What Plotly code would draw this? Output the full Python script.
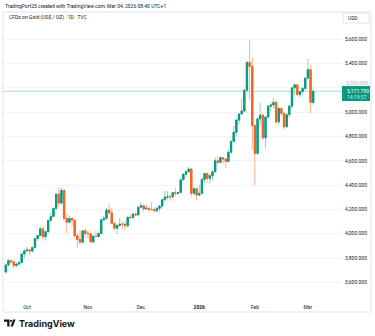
import plotly.graph_objects as go

# ---------------- data ----------------
dates = [
    "2025-09-19", "2025-09-22", "2025-09-23", "2025-09-24", "2025-09-25", "2025-09-26",
    "2025-09-29", "2025-09-30",
    "2025-10-01", "2025-10-02", "2025-10-03", "2025-10-06", "2025-10-07", "2025-10-08",
    "2025-10-09", "2025-10-10", "2025-10-13", "2025-10-14", "2025-10-15", "2025-10-16",
    "2025-10-17", "2025-10-20", "2025-10-21", "2025-10-22", "2025-10-23", "2025-10-24",
    "2025-10-27", "2025-10-28", "2025-10-29", "2025-10-30", "2025-10-31",
    "2025-11-03", "2025-11-04", "2025-11-05", "2025-11-06", "2025-11-07", "2025-11-10",
    "2025-11-11", "2025-11-12", "2025-11-13", "2025-11-14", "2025-11-17", "2025-11-18",
    "2025-11-19", "2025-11-20", "2025-11-21", "2025-11-24", "2025-11-25", "2025-11-26",
    "2025-11-27", "2025-11-28",
    "2025-12-01", "2025-12-02", "2025-12-03", "2025-12-04", "2025-12-05", "2025-12-08",
    "2025-12-09", "2025-12-10", "2025-12-11", "2025-12-12", "2025-12-15", "2025-12-16",
    "2025-12-17", "2025-12-18", "2025-12-19", "2025-12-22", "2025-12-23", "2025-12-24",
    "2025-12-26", "2025-12-29", "2025-12-30", "2025-12-31",
    "2026-01-02", "2026-01-05", "2026-01-06", "2026-01-07", "2026-01-08", "2026-01-09",
    "2026-01-12", "2026-01-13", "2026-01-14", "2026-01-15", "2026-01-16", "2026-01-19",
    "2026-01-20", "2026-01-21", "2026-01-22", "2026-01-23", "2026-01-26", "2026-01-27",
    "2026-01-28", "2026-01-29", "2026-01-30",
    "2026-02-02", "2026-02-03", "2026-02-04", "2026-02-05", "2026-02-06", "2026-02-09",
    "2026-02-10", "2026-02-11", "2026-02-12", "2026-02-13", "2026-02-16", "2026-02-17",
    "2026-02-18", "2026-02-19", "2026-02-20", "2026-02-23", "2026-02-24", "2026-02-25",
    "2026-02-26", "2026-02-27",
    "2026-03-02", "2026-03-03", "2026-03-04",
]

opens = [
    3685, 3742, 3778, 3770, 3738, 3750, 3762, 3833,
    3858, 3866, 3857, 3886, 3961, 3985, 4040, 3975, 4017, 4110, 4142, 4208, 4326, 4252,
    4356, 4125, 4095, 4126, 4111, 3982, 3952, 3930, 4024,
    4002, 4000, 3932, 3980, 3977, 4001, 4115, 4127, 4195, 4171, 4084, 4045, 4067, 4078,
    4077, 4065, 4136, 4131, 4162, 4155,
    4218, 4231, 4205, 4210, 4200, 4198, 4190, 4208, 4228, 4279, 4300, 4304, 4303, 4338,
    4332, 4339, 4444, 4490, 4510, 4532, 4332, 4370,
    4318, 4332, 4447, 4495, 4455, 4477, 4510, 4600, 4588, 4625, 4615, 4595, 4670, 4760,
    4835, 4935, 4985, 5010, 5180, 5410, 5375,
    4890, 4660, 4945, 4975, 4790, 4960, 5050, 5060, 5080, 4920, 5030, 4990, 4880, 4980,
    5050, 5200, 5225, 5145, 5170, 5195,
    5280, 5350, 5080,
]

highs = [
    3752, 3792, 3791, 3780, 3762, 3780, 3838, 3872,
    3895, 3876, 3890, 3965, 3990, 4060, 4060, 4025, 4115, 4180, 4218, 4330, 4380, 4381,
    4370, 4160, 4150, 4135, 4120, 4000, 4030, 4030, 4040,
    4030, 4010, 3990, 4020, 4020, 4120, 4148, 4215, 4245, 4210, 4095, 4080, 4130, 4100,
    4100, 4140, 4160, 4170, 4175, 4225,
    4262, 4235, 4240, 4220, 4260, 4215, 4220, 4235, 4285, 4352, 4350, 4320, 4345, 4375,
    4350, 4450, 4498, 4525, 4550, 4540, 4385, 4375,
    4400, 4460, 4500, 4500, 4490, 4520, 4630, 4635, 4640, 4630, 4625, 4690, 4765, 4890,
    4945, 4990, 5110, 5190, 5420, 5595, 5450,
    4900, 4960, 5080, 4990, 4970, 5060, 5080, 5115, 5100, 5045, 5040, 5000, 4990, 5060,
    5215, 5235, 5230, 5175, 5210, 5290,
    5440, 5390, 5195,
]

lows = [
    3672, 3738, 3752, 3718, 3722, 3742, 3758, 3795,
    3850, 3820, 3845, 3880, 3940, 3980, 3945, 3945, 4005, 4095, 4140, 4200, 4230, 4240,
    4110, 4005, 4085, 4060, 3975, 3886, 3915, 3920, 3970,
    3960, 3930, 3928, 3970, 3965, 3995, 4100, 4110, 4160, 4080, 4030, 3997, 4060, 4040,
    4030, 4050, 4120, 4125, 4140, 4150,
    4215, 4185, 4195, 4175, 4195, 4180, 4170, 4185, 4210, 4270, 4280, 4270, 4290, 4310,
    4320, 4335, 4440, 4465, 4505, 4305, 4320, 4275,
    4310, 4325, 4420, 4420, 4410, 4440, 4505, 4570, 4580, 4575, 4535, 4590, 4660, 4750,
    4800, 4900, 4980, 5000, 5170, 5100, 4690,
    4400, 4650, 4900, 4770, 4700, 4950, 5010, 5030, 4900, 4900, 4970, 4855, 4870, 4960,
    5030, 5140, 5130, 5120, 5150, 5180,
    5270, 4990, 5060,
]

closes = [
    3742, 3778, 3770, 3738, 3750, 3762, 3833, 3858,
    3866, 3857, 3886, 3961, 3985, 4040, 3975, 4017, 4110, 4142, 4208, 4326, 4252, 4356,
    4125, 4095, 4126, 4111, 3982, 3952, 3930, 4024, 4002,
    4000, 3932, 3980, 3977, 4001, 4115, 4127, 4195, 4171, 4084, 4045, 4067, 4078, 4077,
    4065, 4136, 4131, 4162, 4155, 4218,
    4231, 4205, 4210, 4200, 4198, 4190, 4208, 4228, 4279, 4300, 4304, 4303, 4338, 4332,
    4339, 4444, 4490, 4510, 4532, 4332, 4370, 4318,
    4332, 4447, 4495, 4455, 4477, 4510, 4600, 4588, 4625, 4615, 4595, 4670, 4760, 4835,
    4935, 4985, 5010, 5180, 5410, 5375, 4890,
    4660, 4945, 4975, 4790, 4960, 5050, 5060, 5080, 4920, 5030, 4990, 4880, 4980, 5050,
    5200, 5225, 5145, 5170, 5195, 5280,
    5350, 5080, 5171.79,
]

tick_dates = ["2025-10-01", "2025-11-03", "2025-12-01", "2026-01-02", "2026-02-02", "2026-03-02"]
tick_labels = ["Oct", "Nov", "Dec", "<b>2026</b>", "Feb", "Mar"]
price_ticks = [3600, 3800, 4000, 4200, 4400, 4600, 4800, 5000, 5200, 5400, 5600]
header_text = "TradingPort25 created with TradingView.com, Mar 04, 2026 08:40 UTC+1"
title_text = "CFDs on Gold (US$ / OZ) · 1D · TVC"
currency = "USD"
countdown = "14:19:57"

# ---------------- styling ----------------
W, H = 375, 336
L, R, T, B = 3, 342, 13, 300  # plot area in pixels
UP, DOWN = "#089981", "#F6621F"
UP_WICK, DOWN_WICK = "#8fd3c3", "#fab08e"
TXT = "#131722"
FONT = "Roboto, Arial, sans-serif"

def fx(px):
    return (px - L) / (R - L)

def fy(py):
    return (B - py) / (B - T)

xs = list(range(len(dates)))
tickvals = [dates.index(d) for d in tick_dates]
body_hi = [max(o, c) for o, c in zip(opens, closes)]
body_lo = [min(o, c) for o, c in zip(opens, closes)]
last_price = closes[-1]
last_up = closes[-1] >= opens[-1]

fig = go.Figure()
# wicks (pale)
fig.add_trace(go.Candlestick(
    x=xs, open=opens, high=highs, low=lows, close=closes,
    increasing=dict(line=dict(color=UP_WICK, width=1), fillcolor=UP_WICK),
    decreasing=dict(line=dict(color=DOWN_WICK, width=1), fillcolor=DOWN_WICK),
    hoverinfo="skip", showlegend=False,
))
# bodies
fig.add_trace(go.Candlestick(
    x=xs, open=opens, high=body_hi, low=body_lo, close=closes,
    increasing=dict(line=dict(color=UP, width=1), fillcolor=UP),
    decreasing=dict(line=dict(color=DOWN, width=1), fillcolor=DOWN),
    hoverinfo="skip", showlegend=False,
))

i_left = 8 + (L - 27) / 2.65
i_right = 8 + (R - 27) / 2.65
y_per_px = 8.23
y_top = 5600 + (39.3 - T) * y_per_px
y_bot = 5600 - (B - 39.3) * y_per_px

# the label of the tick hidden behind the last-price box is drawn as an annotation above it
hidden_tick = 5200
axis_ticktext = ["" if v == hidden_tick else f"{v:,.3f}" for v in price_ticks]

fig.update_layout(
    width=W, height=H,
    margin=dict(l=L, r=W - R, t=T, b=H - B),
    paper_bgcolor="white", plot_bgcolor="white",
    font=dict(family=FONT, color=TXT, size=5),
    showlegend=False,
    xaxis=dict(
        range=[i_left, i_right], tickvals=tickvals, ticktext=tick_labels,
        showgrid=False, zeroline=False, showline=False, ticks="",
        tickfont=dict(size=5, color=TXT, family=FONT),
        rangeslider=dict(visible=False), fixedrange=True,
        ticklabelstandoff=3,
    ),
    yaxis=dict(
        side="right", range=[y_bot, y_top], tickvals=price_ticks,
        ticktext=axis_ticktext,
        showgrid=True, gridcolor="#f0f3fa", gridwidth=1,
        zeroline=False, showline=False, ticks="",
        tickfont=dict(size=5, color=TXT, family=FONT),
        ticklabelstandoff=2, fixedrange=True,
    ),
)

shapes = []
# outer frame
shapes.append(dict(type="rect", xref="paper", yref="paper",
                   x0=fx(3), x1=fx(371), y0=fy(312), y1=fy(12),
                   line=dict(color="#e0e3eb", width=1), fillcolor="rgba(0,0,0,0)", layer="above"))
# currency box
shapes.append(dict(type="rect", xref="paper", yref="paper",
                   x0=fx(343), x1=fx(369), y0=fy(23), y1=fy(13),
                   line=dict(color="#e0e3eb", width=1), fillcolor="white", layer="above"))
# last price line
shapes.append(dict(type="line", xref="paper", yref="y", x0=0, x1=1,
                   y0=last_price, y1=last_price,
                   line=dict(color="rgba(8,153,129,0.35)", width=1), layer="below"))
# last price label box
shapes.append(dict(type="rect", xref="paper", yref="paper",
                   x0=fx(342), x1=fx(370), y0=fy(101), y1=fy(86),
                   line=dict(width=0), fillcolor=UP if last_up else DOWN, layer="above"))
# TradingView logo icon
def P(px, py):
    return f"{fx(px):.5f},{fy(py):.5f}"
shapes.append(dict(type="path", xref="paper", yref="paper",
                   path=f"M {P(4,319.5)} L {P(9.5,319.5)} L {P(9.5,326.5)} L {P(7.2,326.5)} L {P(7.2,321.8)} L {P(4,321.8)} Z",
                   fillcolor=TXT, line=dict(width=0), layer="above"))
shapes.append(dict(type="circle", xref="paper", yref="paper",
                   x0=fx(9.9), x1=fx(12.1), y0=fy(322.0), y1=fy(319.8),
                   fillcolor=TXT, line=dict(width=0), layer="above"))
shapes.append(dict(type="path", xref="paper", yref="paper",
                   path=f"M {P(10.5,326.5)} L {P(13.2,319.5)} L {P(15.6,319.5)} L {P(12.9,326.5)} Z",
                   fillcolor=TXT, line=dict(width=0), layer="above"))
fig.update_layout(shapes=shapes)

annotations = [
    dict(text=header_text, x=fx(3), y=fy(6), xanchor="left", yanchor="middle",
         font=dict(size=5, color=TXT, family=FONT)),
    dict(text=title_text, x=fx(7), y=fy(18), xanchor="left", yanchor="middle",
         font=dict(size=5, color=TXT, family=FONT)),
    dict(text=currency, x=fx(345.5), y=fy(18), xanchor="left", yanchor="middle",
         font=dict(size=5, color=TXT, family=FONT)),
    dict(text=f"{hidden_tick:,.3f}", x=fx(344), y=fy(82.5), xanchor="left", yanchor="middle",
         font=dict(size=5, color="#b2b5be", family=FONT)),
    dict(text=f"{last_price:,.3f}", x=fx(345), y=fy(90.5), xanchor="left", yanchor="middle",
         font=dict(size=5, color="white", family=FONT)),
    dict(text=countdown, x=fx(345), y=fy(96.8), xanchor="left", yanchor="middle",
         font=dict(size=5, color="rgba(255,255,255,0.8)", family=FONT)),
    dict(text="<b>TradingView</b>", x=fx(16.5), y=fy(323), xanchor="left", yanchor="middle",
         font=dict(size=9, color=TXT, family="Inter, Roboto, sans-serif")),
]
for a in annotations:
    a.update(xref="paper", yref="paper", showarrow=False)
fig.update_layout(annotations=annotations)

fig.write_html("out.html")
